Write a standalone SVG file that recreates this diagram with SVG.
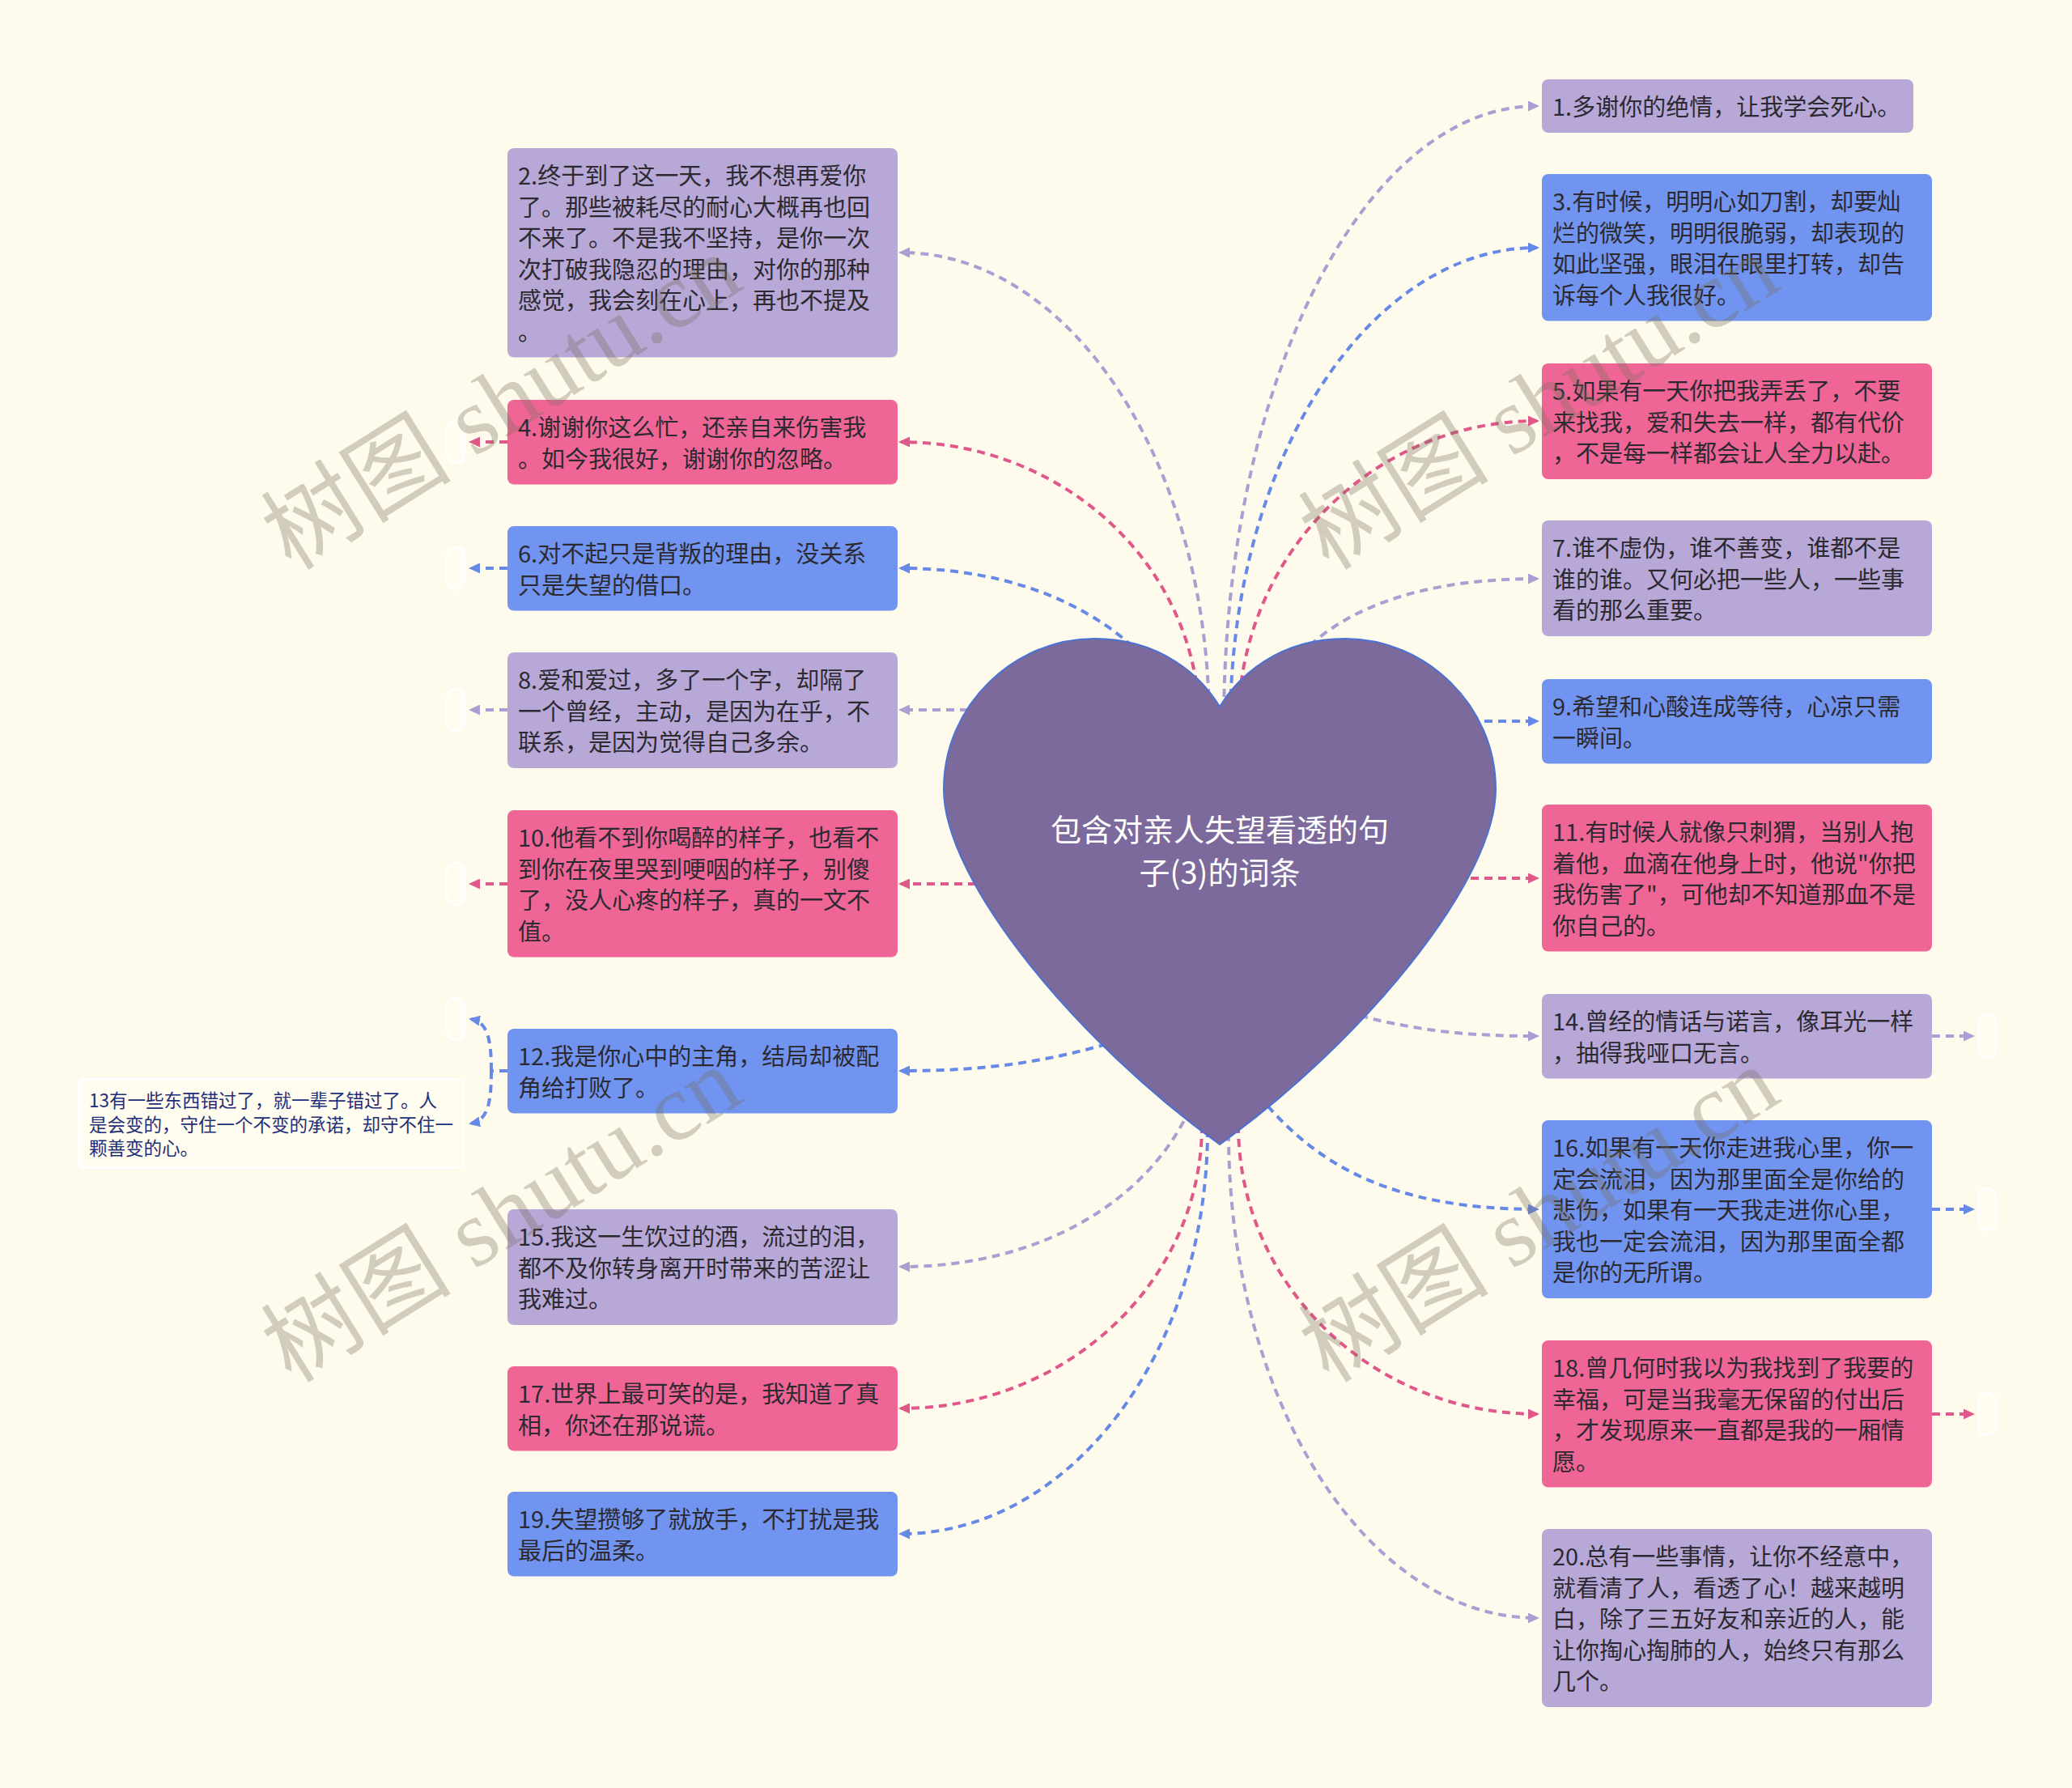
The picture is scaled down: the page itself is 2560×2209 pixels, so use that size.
<svg xmlns="http://www.w3.org/2000/svg" width="2560" height="2209" viewBox="0 0 2560 2209">
<defs>
<style>
.t{font-family:"Noto Sans CJK SC","Noto Sans",sans-serif;font-size:29px;fill:#2c2a30}
.nl{fill:#B7A8D8}
.nb{fill:#7194F0}
.np{fill:#EF6696}
.e{fill:#FFFCF0;stroke:#FFFFFF;stroke-width:2.5}
.c{fill:none;stroke-width:4;stroke-dasharray:10 7}
.cl{stroke:#AC9ED2}
.cb{stroke:#6689E8}
.cp{stroke:#E0588A}
.wm{font-family:"Liberation Serif","Noto Sans CJK SC",serif;font-size:118px;fill:#786E5A;fill-opacity:0.33}
</style>
<marker id="ml" markerUnits="userSpaceOnUse" markerWidth="14" markerHeight="13" refX="11" refY="6.5" orient="auto"><path d="M0,0 L14,6.5 L0,13 z" fill="#AC9ED2"/></marker>
<marker id="mb" markerUnits="userSpaceOnUse" markerWidth="14" markerHeight="13" refX="11" refY="6.5" orient="auto"><path d="M0,0 L14,6.5 L0,13 z" fill="#6689E8"/></marker>
<marker id="mp" markerUnits="userSpaceOnUse" markerWidth="14" markerHeight="13" refX="11" refY="6.5" orient="auto"><path d="M0,0 L14,6.5 L0,13 z" fill="#E0588A"/></marker>
</defs>
<rect x="0" y="0" width="2560" height="2209" fill="#FEFBEC"/>

<g id="connectors">
<path class="c cl" marker-end="url(#ml)" d="M1512,895 C1512,473 1685,131 1899,131"/>
<path class="c cb" marker-end="url(#mb)" d="M1520,895 C1520,570 1690,306 1899,306"/>
<path class="c cp" marker-end="url(#mp)" d="M1530,895 C1530,688 1695,520 1899,520"/>
<path class="c cl" marker-end="url(#ml)" d="M1560,880 C1610,760 1740,715 1899,715"/>
<path class="c cb" marker-end="url(#mb)" d="M1800,891 L1899,891"/>
<path class="c cp" marker-end="url(#mp)" d="M1800,1085 L1899,1085"/>
<path class="c cl" marker-end="url(#ml)" d="M1680,1255 C1760,1275 1820,1280 1899,1280"/>
<path class="c cb" marker-end="url(#mb)" d="M1545,1340 C1620,1440 1720,1494 1899,1494"/>
<path class="c cp" marker-end="url(#mp)" d="M1530,1390 C1530,1587 1695,1747 1899,1747"/>
<path class="c cl" marker-end="url(#ml)" d="M1518,1400 C1518,1731 1689,1999 1899,1999"/>
<path class="c cl" marker-end="url(#ml)" d="M1494,895 C1494,573 1323,312 1113,312"/>
<path class="c cp" marker-end="url(#mp)" d="M1482,895 C1482,702 1317,546 1113,546"/>
<path class="c cb" marker-end="url(#mb)" d="M1460,880 C1420,790 1300,702 1113,702"/>
<path class="c cl" marker-end="url(#ml)" d="M1230,877 L1113,877"/>
<path class="c cp" marker-end="url(#mp)" d="M1240,1092 L1113,1092"/>
<path class="c cb" marker-end="url(#mb)" d="M1400,1280 C1300,1312 1220,1323 1113,1323"/>
<path class="c cl" marker-end="url(#ml)" d="M1470,1370 C1420,1480 1290,1565 1113,1565"/>
<path class="c cp" marker-end="url(#mp)" d="M1485,1390 C1485,1583 1318,1740 1113,1740"/>
<path class="c cb" marker-end="url(#mb)" d="M1492,1395 C1492,1671 1322,1895 1113,1895"/>
<path class="c cp" marker-end="url(#mp)" d="M627,546 L582,546"/>
<path class="c cb" marker-end="url(#mb)" d="M627,702 L582,702"/>
<path class="c cl" marker-end="url(#ml)" d="M627,877 L582,877"/>
<path class="c cp" marker-end="url(#mp)" d="M627,1092 L582,1092"/>
<path class="c cb" d="M627,1323 L607,1323"/>
<path class="c cb" marker-end="url(#mb)" d="M607,1323 C607,1285 603,1263 582,1259"/>
<path class="c cb" marker-end="url(#mb)" d="M607,1323 C607,1362 603,1384 582,1388"/>
<path class="c cl" marker-end="url(#ml)" d="M2387,1280 L2437,1280"/>
<path class="c cb" marker-end="url(#mb)" d="M2387,1494 L2437,1494"/>
<path class="c cp" marker-end="url(#mp)" d="M2387,1747 L2437,1747"/>
</g>

<g id="root">
<path d="M1507,873 C1530,835 1580,789 1662,789 C1760,789 1848,870 1848,975 C1848,1090 1680,1290 1507,1414 C1334,1290 1166,1090 1166,975 C1166,870 1254,789 1352,789 C1434,789 1484,835 1507,873 Z" fill="#7B6A9B" stroke="#4A72D4" stroke-width="2"/>
<text font-family="Noto Sans CJK SC,Noto Sans,sans-serif" font-size="38" fill="#FFFFFF" text-anchor="middle"><tspan x="1507" y="1039">包含对亲人失望看透的句</tspan><tspan x="1507" y="1092">子(3)的词条</tspan></text>
</g>

<g id="n1"><rect class="nl" x="1905" y="98" width="459" height="66" rx="8"/><text class="t"><tspan x="1918" y="143">1.多谢你的绝情，让我学会死心。</tspan></text></g>
<g id="n3"><rect class="nb" x="1905" y="215" width="482" height="181.5" rx="8"/><text class="t"><tspan x="1918" y="260">3.有时候，明明心如刀割，却要灿</tspan><tspan x="1918" y="298.5">烂的微笑，明明很脆弱，却表现的</tspan><tspan x="1918" y="337">如此坚强，眼泪在眼里打转，却告</tspan><tspan x="1918" y="375.5">诉每个人我很好。</tspan></text></g>
<g id="n5"><rect class="np" x="1905" y="449" width="482" height="143" rx="8"/><text class="t"><tspan x="1918" y="494">5.如果有一天你把我弄丢了，不要</tspan><tspan x="1918" y="532.5">来找我，爱和失去一样，都有代价</tspan><tspan x="1918" y="571">，不是每一样都会让人全力以赴。</tspan></text></g>
<g id="n7"><rect class="nl" x="1905" y="643" width="482" height="143" rx="8"/><text class="t"><tspan x="1918" y="688">7.谁不虚伪，谁不善变，谁都不是</tspan><tspan x="1918" y="726.5">谁的谁。又何必把一些人，一些事</tspan><tspan x="1918" y="765">看的那么重要。</tspan></text></g>
<g id="n9"><rect class="nb" x="1905" y="839" width="482" height="104.5" rx="8"/><text class="t"><tspan x="1918" y="884">9.希望和心酸连成等待，心凉只需</tspan><tspan x="1918" y="922.5">一瞬间。</tspan></text></g>
<g id="n11"><rect class="np" x="1905" y="994" width="482" height="181.5" rx="8"/><text class="t"><tspan x="1918" y="1039">11.有时候人就像只刺猬，当别人抱</tspan><tspan x="1918" y="1077.5">着他，血滴在他身上时，他说"你把</tspan><tspan x="1918" y="1116">我伤害了"，可他却不知道那血不是</tspan><tspan x="1918" y="1154.5">你自己的。</tspan></text></g>
<g id="n14"><rect class="nl" x="1905" y="1228" width="482" height="104.5" rx="8"/><text class="t"><tspan x="1918" y="1273">14.曾经的情话与诺言，像耳光一样</tspan><tspan x="1918" y="1311.5">，抽得我哑口无言。</tspan></text></g>
<g id="n16"><rect class="nb" x="1905" y="1384" width="482" height="220" rx="8"/><text class="t"><tspan x="1918" y="1429">16.如果有一天你走进我心里，你一</tspan><tspan x="1918" y="1467.5">定会流泪，因为那里面全是你给的</tspan><tspan x="1918" y="1506">悲伤，如果有一天我走进你心里，</tspan><tspan x="1918" y="1544.5">我也一定会流泪，因为那里面全都</tspan><tspan x="1918" y="1583">是你的无所谓。</tspan></text></g>
<g id="n18"><rect class="np" x="1905" y="1656" width="482" height="181.5" rx="8"/><text class="t"><tspan x="1918" y="1701">18.曾几何时我以为我找到了我要的</tspan><tspan x="1918" y="1739.5">幸福，可是当我毫无保留的付出后</tspan><tspan x="1918" y="1778">，才发现原来一直都是我的一厢情</tspan><tspan x="1918" y="1816.5">愿。</tspan></text></g>
<g id="n20"><rect class="nl" x="1905" y="1889" width="482" height="220" rx="8"/><text class="t"><tspan x="1918" y="1934">20.总有一些事情，让你不经意中，</tspan><tspan x="1918" y="1972.5">就看清了人，看透了心！越来越明</tspan><tspan x="1918" y="2011">白，除了三五好友和亲近的人，能</tspan><tspan x="1918" y="2049.5">让你掏心掏肺的人，始终只有那么</tspan><tspan x="1918" y="2088">几个。</tspan></text></g>

<g id="n2"><rect class="nl" x="627" y="183" width="482" height="258.5" rx="8"/><text class="t"><tspan x="640" y="228">2.终于到了这一天，我不想再爱你</tspan><tspan x="640" y="266.5">了。那些被耗尽的耐心大概再也回</tspan><tspan x="640" y="305">不来了。不是我不坚持，是你一次</tspan><tspan x="640" y="343.5">次打破我隐忍的理由，对你的那种</tspan><tspan x="640" y="382">感觉，我会刻在心上，再也不提及</tspan><tspan x="640" y="420.5">。</tspan></text></g>
<g id="n4"><rect class="np" x="627" y="494" width="482" height="104.5" rx="8"/><text class="t"><tspan x="640" y="539">4.谢谢你这么忙，还亲自来伤害我</tspan><tspan x="640" y="577.5">。如今我很好，谢谢你的忽略。</tspan></text></g>
<g id="n6"><rect class="nb" x="627" y="650" width="482" height="104.5" rx="8"/><text class="t"><tspan x="640" y="695">6.对不起只是背叛的理由，没关系</tspan><tspan x="640" y="733.5">只是失望的借口。</tspan></text></g>
<g id="n8"><rect class="nl" x="627" y="806" width="482" height="143" rx="8"/><text class="t"><tspan x="640" y="851">8.爱和爱过，多了一个字，却隔了</tspan><tspan x="640" y="889.5">一个曾经，主动，是因为在乎，不</tspan><tspan x="640" y="928">联系，是因为觉得自己多余。</tspan></text></g>
<g id="n10"><rect class="np" x="627" y="1001" width="482" height="181.5" rx="8"/><text class="t"><tspan x="640" y="1046">10.他看不到你喝醉的样子，也看不</tspan><tspan x="640" y="1084.5">到你在夜里哭到哽咽的样子，别傻</tspan><tspan x="640" y="1123">了，没人心疼的样子，真的一文不</tspan><tspan x="640" y="1161.5">值。</tspan></text></g>
<g id="n12"><rect class="nb" x="627" y="1271" width="482" height="104.5" rx="8"/><text class="t"><tspan x="640" y="1316">12.我是你心中的主角，结局却被配</tspan><tspan x="640" y="1354.5">角给打败了。</tspan></text></g>
<g id="n15"><rect class="nl" x="627" y="1494" width="482" height="143" rx="8"/><text class="t"><tspan x="640" y="1539">15.我这一生饮过的酒，流过的泪，</tspan><tspan x="640" y="1577.5">都不及你转身离开时带来的苦涩让</tspan><tspan x="640" y="1616">我难过。</tspan></text></g>
<g id="n17"><rect class="np" x="627" y="1688" width="482" height="104.5" rx="8"/><text class="t"><tspan x="640" y="1733">17.世界上最可笑的是，我知道了真</tspan><tspan x="640" y="1771.5">相，你还在那说谎。</tspan></text></g>
<g id="n19"><rect class="nb" x="627" y="1843" width="482" height="104.5" rx="8"/><text class="t"><tspan x="640" y="1888">19.失望攒够了就放手，不打扰是我</tspan><tspan x="640" y="1926.5">最后的温柔。</tspan></text></g>

<g id="n13"><rect class="e" x="97" y="1333" width="476" height="110" rx="10"/><text font-family="Noto Sans CJK SC,Noto Sans,sans-serif" font-size="22.5" fill="#1F2E78"><tspan x="110" y="1368">13有一些东西错过了，就一辈子错过了。人</tspan><tspan x="110" y="1397.5">是会变的，守住一个不变的承诺，却守不住一</tspan><tspan x="110" y="1427">颗善变的心。</tspan></text></g>

<g id="empty-nodes">
<rect class="e" x="552" y="520" width="22" height="52" rx="11"/>
<rect class="e" x="552" y="676" width="22" height="52" rx="11"/>
<rect class="e" x="552" y="851" width="22" height="52" rx="11"/>
<rect class="e" x="552" y="1066" width="22" height="52" rx="11"/>
<rect class="e" x="552" y="1233" width="22" height="52" rx="11"/>
<rect class="e" x="2444" y="1254" width="22" height="52" rx="11"/>
<rect class="e" x="2444" y="1468" width="22" height="52" rx="11"/>
<rect class="e" x="2444" y="1721" width="22" height="52" rx="11"/>
</g>

<g id="watermarks">
<text class="wm" transform="translate(360,706) rotate(-32)">树图 shutu.cn</text>
<text class="wm" transform="translate(1642,706) rotate(-32)">树图 shutu.cn</text>
<text class="wm" transform="translate(360,1710) rotate(-32)">树图 shutu.cn</text>
<text class="wm" transform="translate(1642,1710) rotate(-32)">树图 shutu.cn</text>
</g>
</svg>
